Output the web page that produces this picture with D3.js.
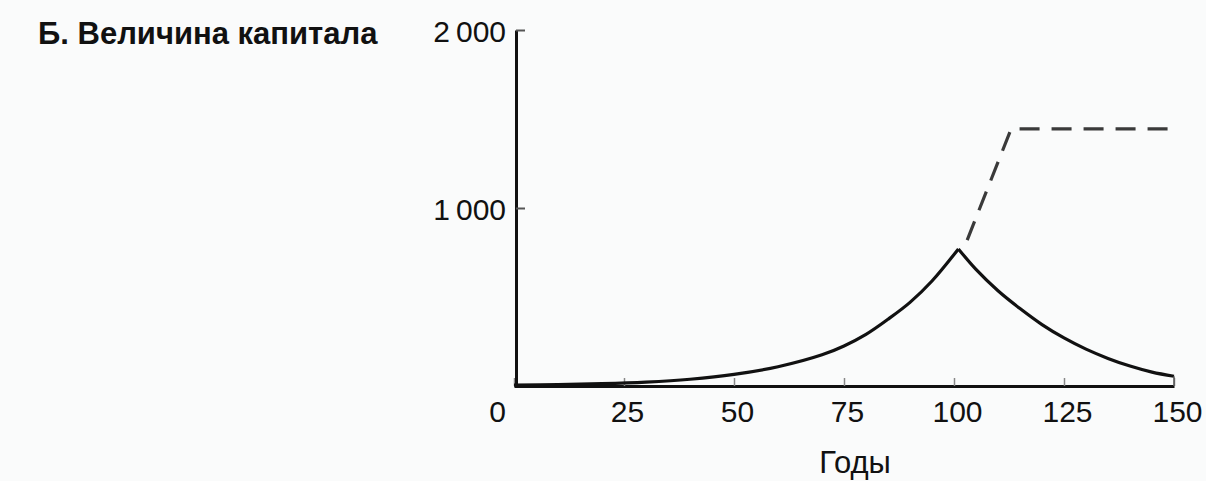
<!DOCTYPE html>
<html>
<head>
<meta charset="utf-8">
<script src="https://cdn.jsdelivr.net/npm/d3@7"></script>
<style>
  body { margin: 0; background: #fafbfb; }
  svg { display: block; font-family: "Liberation Sans", Arial, sans-serif; }
</style>
</head>
<body>
<div id="chart"></div>
<script>
// values (capital, years)
const growthYears  = [0, 10, 20, 30, 40, 50, 60, 70, 75, 80, 85, 90, 95, 101];
const growthValues = [5, 8, 13, 22, 38, 65, 108, 175, 225, 290, 375, 470, 590, 770];
const decayYears   = [101, 105, 110, 115, 120, 125, 130, 135, 140, 145, 150];
const decayValues  = [770, 655, 535, 435, 345, 270, 207, 155, 112, 78, 55];
const dashYears    = [103, 113, 150];
const dashValues   = [820, 1445, 1445];
const xTicks = [0, 25, 50, 75, 100, 125, 150];
const yTicks = [1000, 2000];
const yTickLabels = ["1\u2009000", "2\u2009000"];

const width = 1206, height = 481;

const svg = d3.select("#chart")
    .append("svg")
    .attr("width", width)
    .attr("height", height);

const x = d3.scaleLinear().domain([0, 150]).range([514, 1174]);
const y = d3.scaleLinear().domain([0, 2000]).range([386, 30]);

const toPts = (xs, ys) => xs.map((d, i) => [d, ys[i]]);

const line = d3.line()
    .x(d => x(d[0]))
    .y(d => y(d[1]))
    .curve(d3.curveCatmullRom.alpha(0.5));

// title
svg.append("text")
    .attr("x", 38)
    .attr("y", 44)
    .style("font-size", "31px")
    .style("font-weight", "bold")
    .attr("fill", "#111")
    .text("Б. Величина капитала");

// x axis
const xAxis = svg.append("g")
    .attr("transform", `translate(0,${y(0)})`)
    .call(d3.axisBottom(x).tickValues(xTicks).tickSize(-8).tickSizeOuter(0).tickPadding(15));
xAxis.select(".domain").attr("stroke", "#111").attr("stroke-width", 3);
xAxis.selectAll(".tick line").attr("stroke", "#888").attr("stroke-width", 1.5);
xAxis.selectAll(".tick text")
    .style("font-size", "30px")
    .attr("fill", "#111")
    .attr("dx", d => d === 0 ? -17 : 3);

// y axis
const yAxis = svg.append("g")
    .attr("transform", `translate(${x(0) + 2},0)`)
    .call(d3.axisLeft(y).tickValues(yTicks).tickSize(-9).tickSizeOuter(0).tickPadding(10)
        .tickFormat((d, i) => yTickLabels[i]));
yAxis.select(".domain").attr("stroke", "#111").attr("stroke-width", 3);
yAxis.selectAll(".tick line").attr("stroke", "#555").attr("stroke-width", 2);
yAxis.selectAll(".tick text")
    .style("font-size", "30px")
    .attr("fill", "#111")
    .attr("dy", "0.38em");

// x label
svg.append("text")
    .attr("x", 855)
    .attr("y", 473)
    .attr("text-anchor", "middle")
    .style("font-size", "31px")
    .attr("fill", "#111")
    .text("Годы");

// dashed line
svg.append("path")
    .datum(toPts(dashYears, dashValues))
    .attr("fill", "none")
    .attr("stroke", "#3a3a3a")
    .attr("stroke-width", 3.2)
    .attr("stroke-dasharray", "20,12")
    .attr("d", d3.line().x(d => x(d[0])).y(d => y(d[1])));

// solid curve: growth then decay
svg.append("path")
    .datum(toPts(growthYears, growthValues))
    .attr("fill", "none")
    .attr("stroke", "#111")
    .attr("stroke-width", 3.2)
    .attr("d", line);

svg.append("path")
    .datum(toPts(decayYears, decayValues))
    .attr("fill", "none")
    .attr("stroke", "#111")
    .attr("stroke-width", 3.2)
    .attr("d", line);

// small drop at the end of the curve
const last = decayYears.length - 1;
svg.append("line")
    .attr("x1", x(decayYears[last]))
    .attr("x2", x(decayYears[last]))
    .attr("y1", y(decayValues[last]))
    .attr("y2", y(0))
    .attr("stroke", "#555")
    .attr("stroke-width", 1.5);
</script>
</body>
</html>
